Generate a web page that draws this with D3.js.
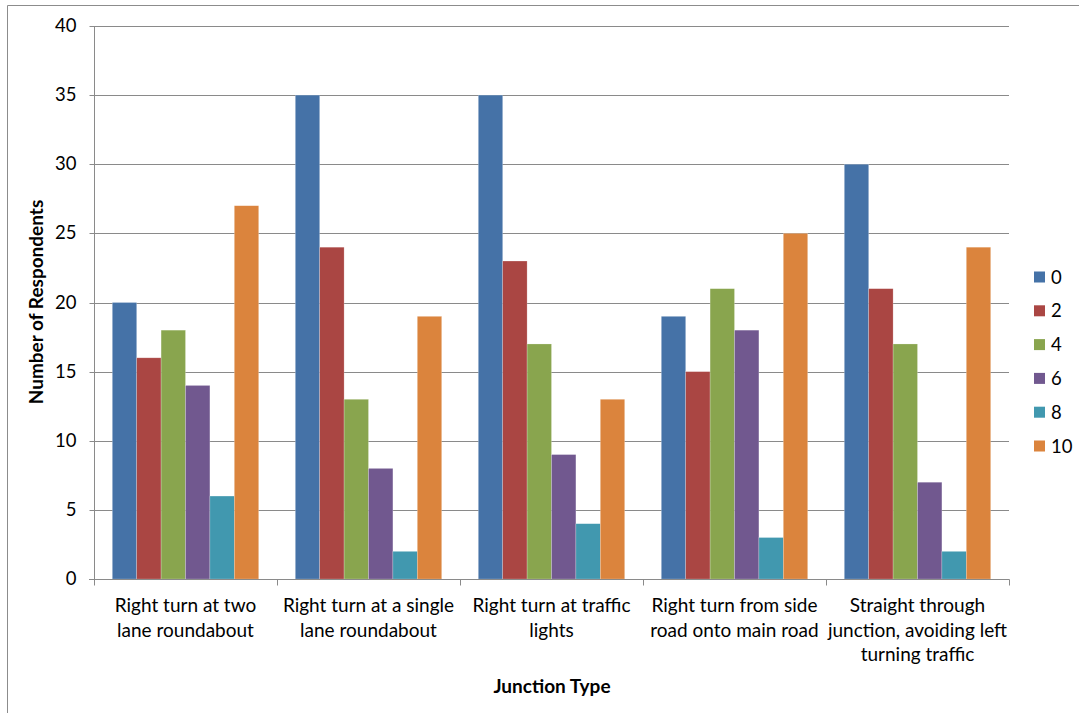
<!DOCTYPE html>
<html>
<head>
<meta charset="utf-8">
<script src="https://cdn.jsdelivr.net/npm/d3@7"></script>
<style>
  html, body { margin: 0; padding: 0; background: #fff; }
  svg { display: block; }
  text { font-family: Lato, "Open Sans", sans-serif; fill: #000; }
</style>
</head>
<body>
<svg id="chart" width="1079" height="713"></svg>
<script>
const categories = [
  ["Right turn at two", "lane roundabout"],
  ["Right turn at a single", "lane roundabout"],
  ["Right turn at traffic", "lights"],
  ["Right turn from side", "road onto main road"],
  ["Straight through", "junction, avoiding left", "turning traffic"]
];
const seriesNames = ["0", "2", "4", "6", "8", "10"];
const s0  = [20, 35, 35, 19, 30];
const s2  = [16, 24, 23, 15, 21];
const s4  = [18, 13, 17, 21, 17];
const s6  = [14, 8, 9, 18, 7];
const s8  = [6, 2, 4, 3, 2];
const s10 = [27, 19, 13, 25, 24];
const seriesValues = [s0, s2, s4, s6, s8, s10];
const colors = ["#4572A7", "#AA4643", "#89A54E", "#71588F", "#4198AF", "#DB843D"];
const yTicks = [0, 5, 10, 15, 20, 25, 30, 35, 40];

const svg = d3.select("#chart");
const pLeft = 94, pRight = 1009, pTop = 26, pBottom = 579;

// outer chart border
svg.append("path")
  .attr("d", "M7.5,720 V5.5 H1090")
  .attr("fill", "none").attr("stroke", "#8c8c8c").attr("stroke-width", 1);

const y = d3.scaleLinear().domain([0, 40]).range([pBottom, pTop]);
const x0 = d3.scaleBand().domain(d3.range(categories.length)).range([pLeft, pRight]).paddingInner(0).paddingOuter(0);
const bw = x0.bandwidth();
const barW = bw / (seriesNames.length + 1.5);
const x1 = d3.scaleBand().domain(d3.range(seriesNames.length))
  .range([0.75 * barW, 0.75 * barW + seriesNames.length * barW]).padding(0);

// gridlines
svg.append("g").selectAll("line").data(yTicks.filter(d => d > 0)).join("line")
  .attr("x1", pLeft).attr("x2", pRight)
  .attr("y1", d => Math.round(y(d)) + 0.5).attr("y2", d => Math.round(y(d)) + 0.5)
  .attr("stroke", "#8a8a8a").attr("stroke-width", 1);

// bars
const groups = svg.append("g").selectAll("g").data(seriesValues).join("g")
  .attr("fill", (d, i) => colors[i]);
groups.each(function(vals, si) {
  d3.select(this).selectAll("rect").data(vals).join("rect")
    .attr("x", (d, ci) => x0(ci) + x1(si))
    .attr("width", x1.bandwidth())
    .attr("y", d => y(d))
    .attr("height", d => y(0) - y(d))
    .attr("stroke", "rgba(255,255,255,0.35)").attr("stroke-width", 0.6);
});

// y axis
const yAxis = d3.axisLeft(y).tickValues(yTicks).tickSize(5).tickPadding(13);
const gy = svg.append("g").attr("transform", `translate(${pLeft + 0.5},0)`).call(yAxis);
gy.select(".domain").attr("stroke", "#8a8a8a").attr("d", `M0,${pBottom + 0.5}V${pTop}`);
gy.selectAll(".tick line").attr("stroke", "#8a8a8a");
gy.selectAll(".tick text").attr("font-size", 18.5).attr("font-family", "Lato, sans-serif").attr("fill", "#000");
gy.selectAll(".tick").attr("transform", d => `translate(0,${Math.round(y(d)) + 0.5})`);

// x axis
const gx = svg.append("g").attr("transform", `translate(0,${pBottom + 0.5})`);
gx.append("line").attr("x1", pLeft - 5).attr("x2", pRight + 0.5).attr("stroke", "#8a8a8a");
const xTickPos = d3.range(categories.length + 1).map(i => i < categories.length ? x0(i) : pRight);
gx.selectAll("line.t").data(xTickPos).join("line").attr("class", "t")
  .attr("x1", d => Math.round(d) + 0.5).attr("x2", d => Math.round(d) + 0.5)
  .attr("y1", 0).attr("y2", 6).attr("stroke", "#8a8a8a");

const labels = svg.append("g").selectAll("text").data(categories).join("text")
  .attr("text-anchor", "middle")
  .attr("font-size", 19)
  .attr("x", (d, i) => x0(i) + bw / 2)
  .attr("y", 612);
labels.each(function(lines) {
  const tx = d3.select(this).attr("x");
  d3.select(this).selectAll("tspan").data(lines).join("tspan")
    .attr("x", tx)
    .attr("dy", (d, i) => i === 0 ? 0 : 24.7)
    .text(d => d);
});

// axis titles
svg.append("text")
  .attr("transform", "translate(43,302) rotate(-90)")
  .attr("text-anchor", "middle")
  .attr("font-size", 19).attr("font-weight", "bold")
  .text("Number of Respondents");
svg.append("text")
  .attr("x", 552).attr("y", 693)
  .attr("text-anchor", "middle")
  .attr("font-size", 19).attr("font-weight", "bold")
  .text("Junction Type");

// legend
const legend = svg.append("g").selectAll("g").data(seriesNames).join("g")
  .attr("transform", (d, i) => `translate(1034,${277 + i * 33.8})`);
legend.append("rect").attr("x", 0).attr("y", -5.5).attr("width", 11).attr("height", 11)
  .attr("fill", (d, i) => colors[i]);
legend.append("text").attr("x", 17).attr("y", 6.5).attr("font-size", 18.5).text(d => d);
</script>
</body>
</html>
